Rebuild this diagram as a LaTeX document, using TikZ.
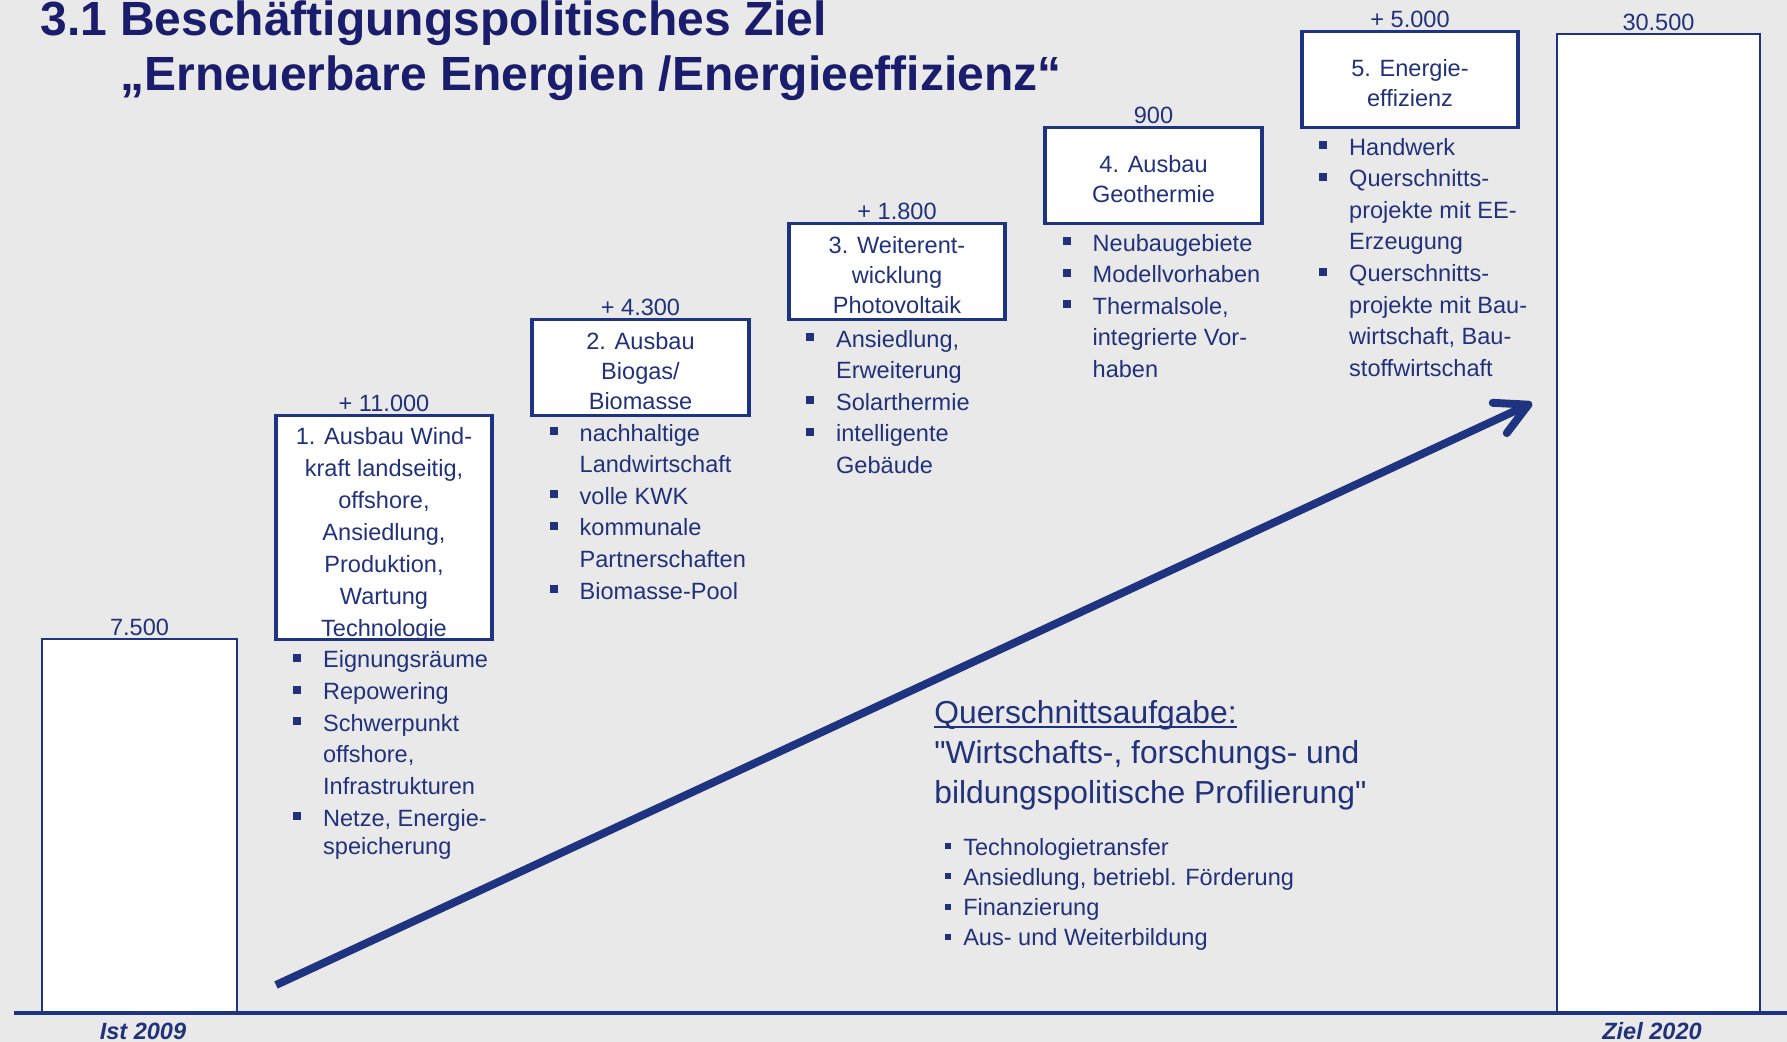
\documentclass[tikz,border=0pt]{standalone}
\usepackage{fontspec}
\setmainfont{Liberation Sans}[Ligatures=TeXOff]
\usepackage{tikz}
\usetikzlibrary{positioning,arrows.meta}
\definecolor{navyline}{RGB}{30,52,128}
\definecolor{navytext}{RGB}{33,50,122}
\definecolor{navytitle}{RGB}{26,28,108}
\definecolor{bggrey}{RGB}{233,233,233}
\newcommand{\blt}{\rule[3.4pt]{4.6pt}{4.6pt}}
\newcommand{\sblt}{\rule[3.4pt]{3.4pt}{3.4pt}}
\newcommand{\boxtext}[2][-3.2pt]{\raisebox{#1}[\height][\depth]{\begin{tabular}{@{}c@{}}#2\end{tabular}}}

\begin{document}
\begin{tikzpicture}[x=0.2cm,y=0.2cm]
\tikzstyle{every node}+=[inner sep=0pt, text=navytext, font=\fontsize{13.4}{18}\selectfont]
\tikzstyle{stepbox}=[draw=navyline, fill=white, line width=2.2pt, outer sep=0pt, minimum width=4.33cm, minimum height=1.92cm, font=\fontsize{13.4}{17.1}\selectfont]
\tikzstyle{barbox}=[draw=navyline, fill=white, line width=1.4pt, outer sep=0pt]
\tikzstyle{titletext}=[anchor=base west, text=navytitle, font=\fontsize{27.3}{32}\selectfont\bfseries]
\tikzstyle{yeartext}=[anchor=base, font=\fontsize{13.4}{16}\selectfont\bfseries\itshape]
\tikzstyle{bigtext}=[anchor=base west, font=\fontsize{18.1}{22.8}\selectfont]
\useasboundingbox (0,0) rectangle (178.7,-104.2);
\fill [bggrey] (0,0) rectangle (178.7,-104.2);
\node [titletext] (title1) at (4.0,-3.6) {3.1 Beschäftigungspolitisches Ziel};
\node [titletext] (title2) at (12.0,-9.1) {„Erneuerbare Energien /Energieeffizienz“};
\node [barbox, minimum width=3.9cm, minimum height=7.48cm] (ist) at (13.95,-82.6) {};
\node [barbox, minimum width=4.06cm, minimum height=19.58cm] (ziel) at (165.85,-52.35) {};
\node [stepbox, minimum height=4.46cm, font=\fontsize{13.4}{18.2}\selectfont] (wind) at (38.4,-52.75) {\boxtext[-3.6pt]{1. Ausbau Wind-\\kraft landseitig,\\offshore,\\Ansiedlung,\\Produktion,\\Wartung\\Technologie}};
\node [stepbox, above right=0cm and 0.8cm of wind] (bio) {\boxtext{2. Ausbau\\Biogas/\\Biomasse}};
\node [stepbox, above right=0cm and 0.8cm of bio] (solar) {\boxtext{3. Weiterent-\\wicklung\\Photovoltaik}};
\node [stepbox, above right=0cm and 0.8cm of solar] (geo) {\boxtext{4. Ausbau\\Geothermie}};
\node [stepbox, above right=0cm and 0.8cm of geo] (effi) {\boxtext{5. Energie-\\effizienz}};
\node [above=0.65mm of ist] (istval) {7.500};
\node [above=0.65mm of wind] (windval) {+ 11.000};
\node [above=0.65mm of bio] (bioval) {+ 4.300};
\node [above=0.65mm of solar] (solarval) {+ 1.800};
\node [above=0.65mm of geo] (geoval) {900};
\node [above=0.65mm of effi] (effival) {+ 5.000};
\node [above=0.65mm of ziel] (zielval) {30.500};
\node [below right=1.2mm and 3.4mm of wind.south west] (windlist) {\begin{tabular}[t]{@{}l@{\hspace{12.5pt}}l@{}}\blt & Eignungsräume\\ \blt & Repowering\\ \blt & Schwerpunkt\\ & offshore,\\ & Infrastrukturen\\ \blt & Netze, Energie-\\[-1.7pt] & speicherung\end{tabular}};
\node [below right=0.6mm and 3.4mm of bio.south west] (biolist) {\begin{tabular}[t]{@{}l@{\hspace{12.5pt}}l@{}}\blt & nachhaltige\\ & Landwirtschaft\\ \blt & volle KWK\\ \blt & kommunale\\ & Partnerschaften\\ \blt & Biomasse-Pool\end{tabular}};
\node [below right=1.0mm and 3.4mm of solar.south west] (solarlist) {\begin{tabular}[t]{@{}l@{\hspace{12.5pt}}l@{}}\blt & Ansiedlung,\\ & Erweiterung\\ \blt & Solarthermie\\ \blt & intelligente\\ & Gebäude\end{tabular}};
\node [below right=1.0mm and 3.4mm of geo.south west] (geolist) {\begin{tabular}[t]{@{}l@{\hspace{12.5pt}}l@{}}\blt & Neubaugebiete\\ \blt & Modellvorhaben\\ \blt & Thermalsole,\\ & integrierte Vor-\\ & haben\end{tabular}};
\node [below right=1.0mm and 3.4mm of effi.south west] (effilist) {\begin{tabular}[t]{@{}l@{\hspace{12.5pt}}l@{}}\blt & Handwerk\\ \blt & Querschnitts-\\ & projekte mit EE-\\ & Erzeugung\\ \blt & Querschnitts-\\ & projekte mit Bau-\\ & wirtschaft, Bau-\\ & stoffwirtschaft\end{tabular}};
\coordinate (arrowstart) at (27.6,-98.5);
\coordinate (arrowend) at (153.2,-40.3);
\draw [navyline, line width=4.5pt, -{Straight Barb[round, length=18pt, width=19pt]}] (arrowstart) -- (arrowend);
\node [bigtext] (qhead) at (93.4,-72.3) {Querschnittsaufgabe:};
\draw [navytext, line width=1.5pt] ([yshift=-2.3pt]qhead.base west) -- ([yshift=-2.3pt]qhead.base east);
\node [bigtext] (qline1) at (93.4,-76.3) {"Wirtschafts-, forschungs- und};
\node [bigtext] (qline2) at (93.4,-80.3) {bildungspolitische Profilierung"};
\node [anchor=north west, font=\fontsize{13.4}{17.1}\selectfont] (qlist) at (94.5,-83.4) {\begin{tabular}[t]{@{}l@{\hspace{6.8pt}}l@{}}\sblt & Technologietransfer\\ \sblt & Ansiedlung, betriebl. Förderung\\ \sblt & Finanzierung\\ \sblt & Aus- und Weiterbildung\end{tabular}};
\coordinate (axisleft) at (1.4,-101.3);
\coordinate (axisright) at (178.7,-101.3);
\draw [navyline, line width=2.3pt] (axisleft) -- (axisright);
\node [yeartext] (istyear) at (14.3,-103.9) {Ist 2009};
\node [yeartext] (zielyear) at (165.2,-103.9) {Ziel 2020};
\end{tikzpicture}
\end{document}
